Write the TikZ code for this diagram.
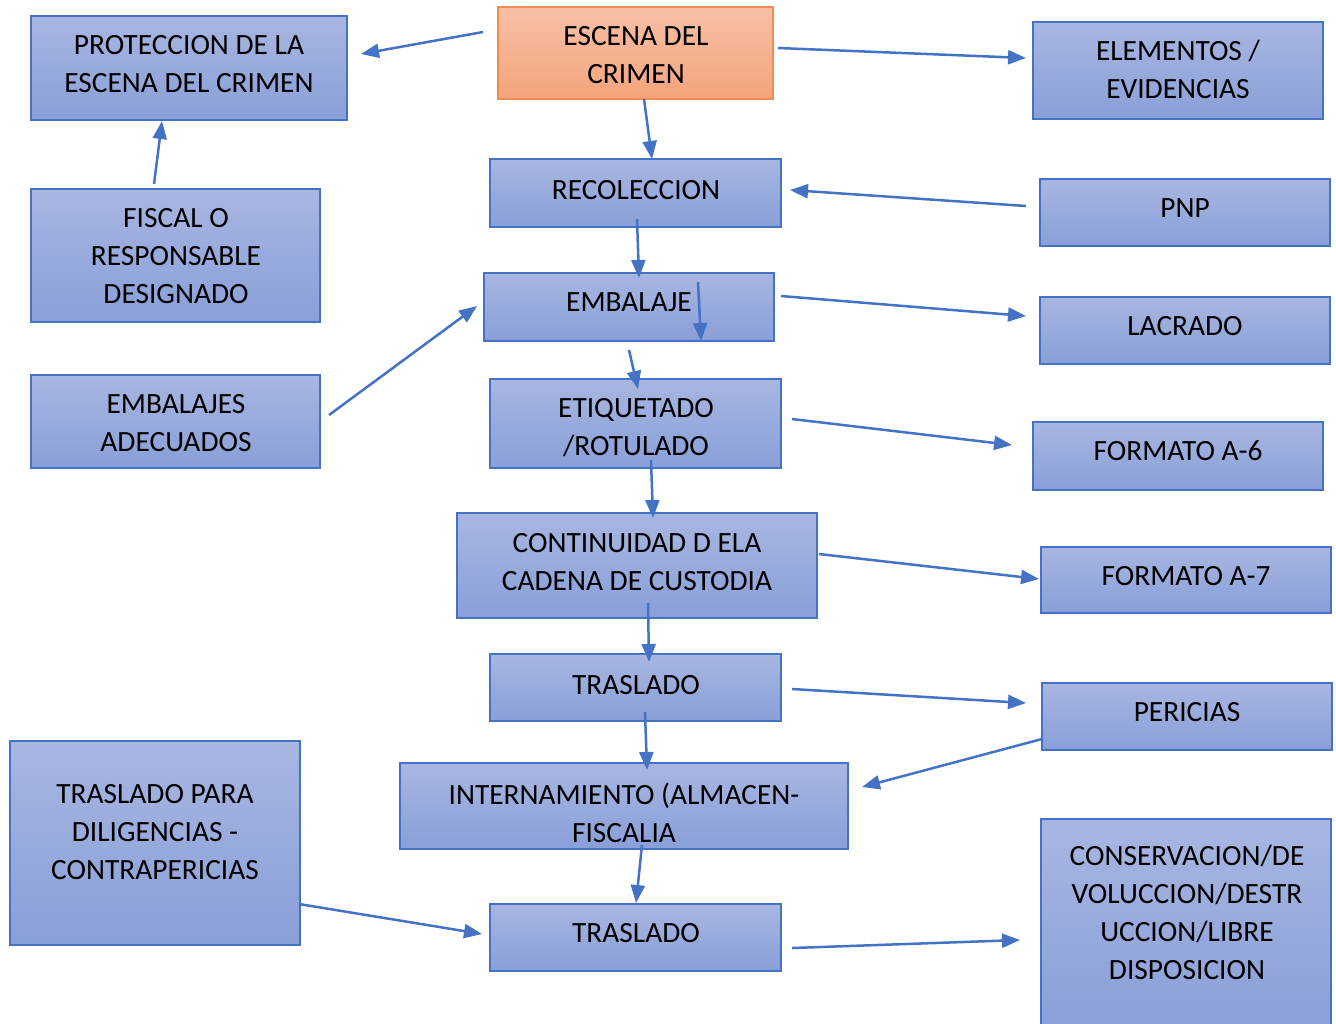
\documentclass[tikz,border=0pt]{standalone}
\usepackage{fontspec}
\setmainfont{Carlito}
\usetikzlibrary{arrows.meta}
\definecolor{bluebd}{HTML}{4472C4}
\definecolor{bluetop}{HTML}{A8B6E1}
\definecolor{bluebot}{HTML}{899FD8}
\definecolor{ortop}{HTML}{F7C0A6}
\definecolor{orbot}{HTML}{F4A47C}
\definecolor{orbd}{HTML}{F08C50}
\tikzset{
  bx/.style={draw=bluebd, line width=0.7pt, top color=bluetop, bottom color=bluebot},
  obx/.style={draw=orbd, line width=0.7pt, top color=ortop, bottom color=orbot},
  txt/.style={align=center, inner sep=0pt, font=\fontsize{14.7}{19}\selectfont},
  arr/.style={draw=bluebd, line width=1.25pt, -{Triangle[length=9pt,width=7pt]}}
}
\begin{document}
\begin{tikzpicture}[x=0.5pt,y=-0.5pt]
\useasboundingbox (0,0) rectangle (1336,1023);
% boxes
\path[bx] (31,16) rectangle (347,120) coordinate (bprot);
\path[obx] (498,7) rectangle (773,99) coordinate (besc);
\path[bx] (1033,22) rectangle (1323,119) coordinate (belem);
\path[bx] (490,159) rectangle (781,227) coordinate (breco);
\path[bx] (1040,179) rectangle (1330,246) coordinate (bpnp);
\path[bx] (31,189) rectangle (320,322) coordinate (bfisc);
\path[bx] (484,273) rectangle (774,341) coordinate (bemb);
\path[bx] (1040,297) rectangle (1330,364) coordinate (blac);
\path[bx] (31,375) rectangle (320,468) coordinate (bembad);
\path[bx] (490,379) rectangle (781,468) coordinate (beti);
\path[bx] (1033,422) rectangle (1323,490) coordinate (bfa6);
\path[bx] (457,513) rectangle (817,618) coordinate (bcont);
\path[bx] (1041,547) rectangle (1331,613) coordinate (bfa7);
\path[bx] (490,654) rectangle (781,721) coordinate (btras);
\path[bx] (1042,683) rectangle (1332,750) coordinate (bper);
\path[bx] (10,741) rectangle (300,945) coordinate (btp);
\path[bx] (400,763) rectangle (848,849) coordinate (bint);
\path[bx] (490,904) rectangle (781,971) coordinate (btras2);
\path[bx] (1041,819) rectangle (1331,1030) coordinate (bcons);
% texts
\node[txt] (tprot) at (189,64) {PROTECCION DE LA\\ESCENA DEL CRIMEN};
\node[txt] (tesc) at (636,55) {ESCENA DEL\\CRIMEN};
\node[txt] (telem) at (1178,69) {ELEMENTOS /\\EVIDENCIAS};
\node[txt] (treco) at (636,190) {RECOLECCION};
\node[txt] (tpnp) at (1185,208) {PNP};
\node[txt] (tfisc) at (176,256) {FISCAL O\\RESPONSABLE\\DESIGNADO};
\node[txt] (temb) at (629,302) {EMBALAJE};
\node[txt] (tlac) at (1185,326) {LACRADO};
\node[txt] (tembad) at (176,423) {EMBALAJES\\ADECUADOS};
\node[txt] (teti) at (636,428) {ETIQUETADO\\/ROTULADO};
\node[txt] (tfa6) at (1178,451) {FORMATO A-6};
\node[txt] (tcont) at (637,562) {CONTINUIDAD D ELA\\CADENA DE CUSTODIA};
\node[txt] (tfa7) at (1186,576) {FORMATO A-7};
\node[txt] (ttras) at (636,685) {TRASLADO};
\node[txt] (tper) at (1187,712) {PERICIAS};
\node[txt] (ttp) at (155,832) {TRASLADO PARA\\DILIGENCIAS -\\CONTRAPERICIAS};
\node[txt] (tint) at (624,813) {INTERNAMIENTO (ALMACEN-\\FISCALIA};
\node[txt] (ttras2) at (636,933) {TRASLADO};
\node[txt] (tcons) at (1187,912) {CONSERVACION/DE\\VOLUCCION/DESTR\\UCCION/LIBRE\\DISPOSICION};
% connector end points
\coordinate (a1s) at (483,32);   \coordinate (a1e) at (361,54);
\coordinate (a2s) at (778,48);   \coordinate (a2e) at (1026,58);
\coordinate (a3s) at (644,99);   \coordinate (a3e) at (652,159);
\coordinate (a4s) at (1026,206); \coordinate (a4e) at (790,190);
\coordinate (a5s) at (154,184);  \coordinate (a5e) at (162,121);
\coordinate (a6s) at (637,219);  \coordinate (a6e) at (639,278);
\coordinate (a7s) at (698,282);  \coordinate (a7e) at (701,341);
\coordinate (a8s) at (781,296);  \coordinate (a8e) at (1026,316);
\coordinate (a9s) at (629,350);  \coordinate (a9e) at (638,389);
\coordinate (a10s) at (329,415); \coordinate (a10e) at (477,306);
\coordinate (a11s) at (792,419); \coordinate (a11e) at (1012,445);
\coordinate (a12s) at (651,460); \coordinate (a12e) at (653,518);
\coordinate (a13s) at (819,554); \coordinate (a13e) at (1039,579);
\coordinate (a14s) at (648,603); \coordinate (a14e) at (649,662);
\coordinate (a15s) at (792,689); \coordinate (a15e) at (1026,703);
\coordinate (a16s) at (645,712); \coordinate (a16e) at (647,770);
\coordinate (a17s) at (1042,739);\coordinate (a17e) at (862,787);
\coordinate (a18s) at (642,845); \coordinate (a18e) at (636,903);
\coordinate (a19s) at (299,904); \coordinate (a19e) at (482,934);
\coordinate (a20s) at (792,948); \coordinate (a20e) at (1020,940);
\foreach \i in {1,...,20} { \draw[arr] (a\i s) -- (a\i e); }
\end{tikzpicture}
\end{document}
